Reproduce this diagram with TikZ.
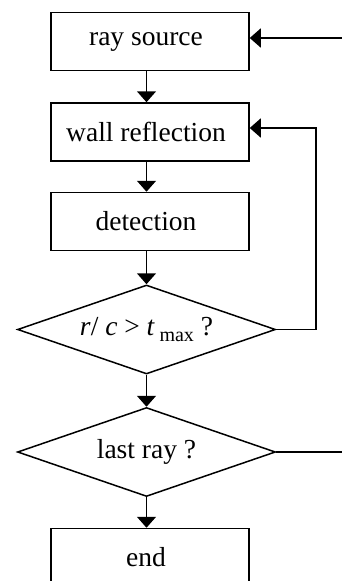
\documentclass[tikz,border=0pt]{standalone}
\usepackage{fontspec}
\setmainfont{Liberation Serif}
\usetikzlibrary{arrows.meta,shapes.geometric}
\tikzset{
  stepbox/.style={draw, rectangle, minimum width=198pt, minimum height=58pt, inner sep=0pt},
  testbox/.style={draw, diamond, aspect=2.9, minimum width=258pt, minimum height=89pt, inner sep=0pt},
  flow/.style={-{Triangle[length=11pt,width=19pt]}},
  every node/.style={font=\fontsize{27.5}{31}\selectfont},
}
\begin{document}
\begin{tikzpicture}[x=1pt, y=-1pt, line width=1.5pt]
  \useasboundingbox (0,0) rectangle (342,581);
  \clip (0,0) rectangle (342,581);

  % main column of the flow chart
  \node[stepbox] (src)  at (150,41.5)  {\hspace*{-8pt}ray source};
  \node[stepbox] (wall) at (150,132)   {\hspace*{-8pt}wall reflection};
  \node[stepbox] (det)  at (150,221.5) {\hspace*{-8pt}detection};
  \node[testbox] (tmax) at (146.5,329.5)
    {\textit{r}/ \textit{c} > \textit{t}\,\raisebox{-0.22em}{\fontsize{20}{22}\selectfont max} ?};
  \node[testbox] (last) at (146.5,452)   {last ray ?};
  \node[stepbox] (fin)  at (150,557.5) {\hspace*{-8pt}end};

  % vertical trunk position of the arrows
  \coordinate (trunk) at (146.5,0);

  \draw[flow] (src.south -| trunk)  -- (wall.north -| trunk);
  \draw[flow] (wall.south -| trunk) -- (det.north -| trunk);
  \draw[flow] (det.south -| trunk)  -- (tmax.north);
  \draw[flow] (tmax.south) -- (last.north);
  \draw[flow] (last.south) -- (fin.north -| trunk);

  % loop back to the wall reflection step
  \coordinate (loopin) at (249,128);
  \draw[flow] (tmax.east) -| (316,128) -- (wall.east |- loopin);

  % loop back to the ray source (runs off the right edge)
  \coordinate (srcin) at (342,38);
  \coordinate (lastout) at (342,452);
  \draw[flow] (srcin) -- (src.east |- srcin);
  \draw (last.east) -- (lastout);
\end{tikzpicture}
\end{document}
